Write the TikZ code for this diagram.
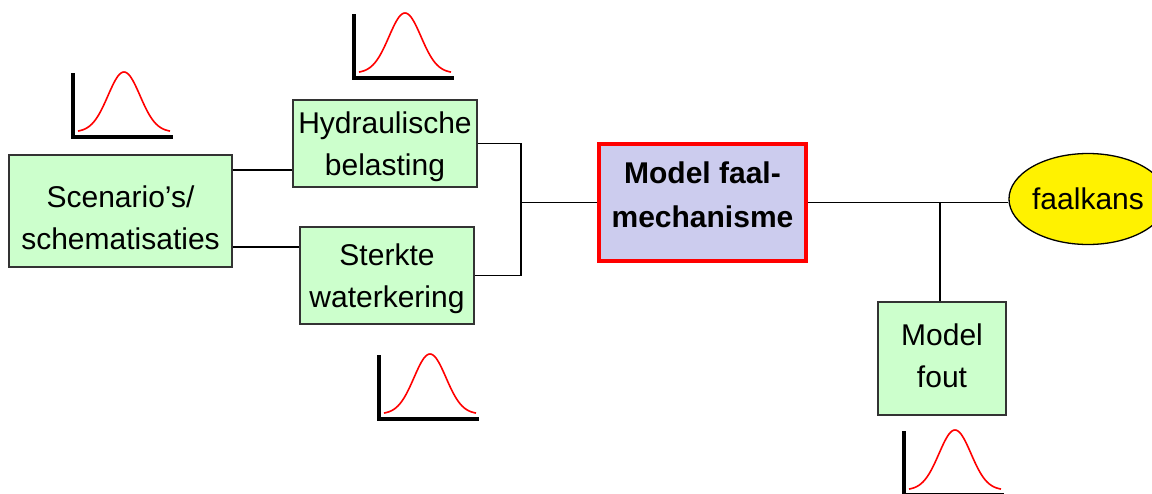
\documentclass[tikz,border=0pt]{standalone}
\usepackage{fontspec}
\setmainfont{Liberation Sans}
\usetikzlibrary{shapes.geometric}
\definecolor{boxgreen}{HTML}{CCFFCC}
\definecolor{boxlav}{HTML}{CCCCEE}
\definecolor{boxedge}{HTML}{333333}
% two-line box text; #1 = height of the first baseline above the box centre
\newcommand\boxtext[2]{\raisebox{#1}[0pt][0pt]{\makebox[0pt]{\begin{tabular}[t]{@{}c@{}}#2\end{tabular}}}}
\tikzset{
  greenbox/.style={draw=boxedge, line width=1.3pt, fill=boxgreen, inner sep=0pt,
    font=\fontsize{30}{42.5}\selectfont},
  modelbox/.style={draw=red, line width=3.5pt, fill=boxlav, inner sep=0pt,
    font=\fontsize{30}{44}\selectfont\bfseries},
  outcome/.style={ellipse, draw=black, line width=1.3pt, fill=yellow, inner sep=0pt,
    minimum width=152pt, minimum height=91pt, font=\fontsize{30}{36}\selectfont},
  link/.style={draw=black, line width=1.5pt},
  axisline/.style={draw=black, line width=4pt, line join=miter},
  pdfcurve/.style={draw=red, line width=1.6pt},
  gauss/.pic={
    \draw[axisline] (0,-64) -- (0,0) -- (100,0);
    \draw[pdfcurve] plot[domain=-46:46, samples=61, smooth]
      ({\x+51}, {-5-60*exp(-0.5*(\x/16)^2)});
  }
}
\begin{document}
\begin{tikzpicture}[x=1pt, y=-1pt]
  \useasboundingbox (0,0) rectangle (1152,493);
  \clip (0,0) rectangle (1152,493);

  % distribution icons
  \pic at (73,137) {gauss};
  \pic at (354,78) {gauss};
  \pic at (379,419) {gauss};
  \pic at (904,495) {gauss};

  % boxes
  \node[greenbox, minimum width=223pt, minimum height=112pt] (scen) at (120.5,211)
    {\boxtext{4pt}{Scenario’s/\\schematisaties}};
  \node[greenbox, minimum width=184pt, minimum height=87pt] (hyd) at (385,143.5)
    {\boxtext{10.5pt}{Hydraulische\\belasting}};
  \node[greenbox, minimum width=174pt, minimum height=97pt] (ster) at (387,275.5)
    {\boxtext{10.5pt}{Sterkte\\waterkering}};
  \node[modelbox, minimum width=207pt, minimum height=117pt] (model) at (702.5,202.5)
    {\boxtext{19.5pt}{Model faal-\\mechanisme}};
  \node[greenbox, minimum width=128pt, minimum height=113pt] (mf) at (942,358.5)
    {\boxtext{13.5pt}{Model\\fout}};
  \node[outcome] (fk) at (1088,199) {faalkans};

  % connectors
  \coordinate (j) at (model.west -| 521,0);
  \coordinate (k) at (940,0 |- model.east);
  \draw[link] (scen.east |- 0,170) -- (hyd.west |- 0,170);
  \draw[link] (scen.east |- 0,247) -- (ster.west |- 0,247);
  \draw[link] (hyd.east) -| (j) |- (ster.east);
  \draw[link] (j) -- (model.west);
  \draw[link] (model.east) -- (model.east -| fk.west);
  \draw[link] (k) -- (k |- mf.north);
\end{tikzpicture}
\end{document}
